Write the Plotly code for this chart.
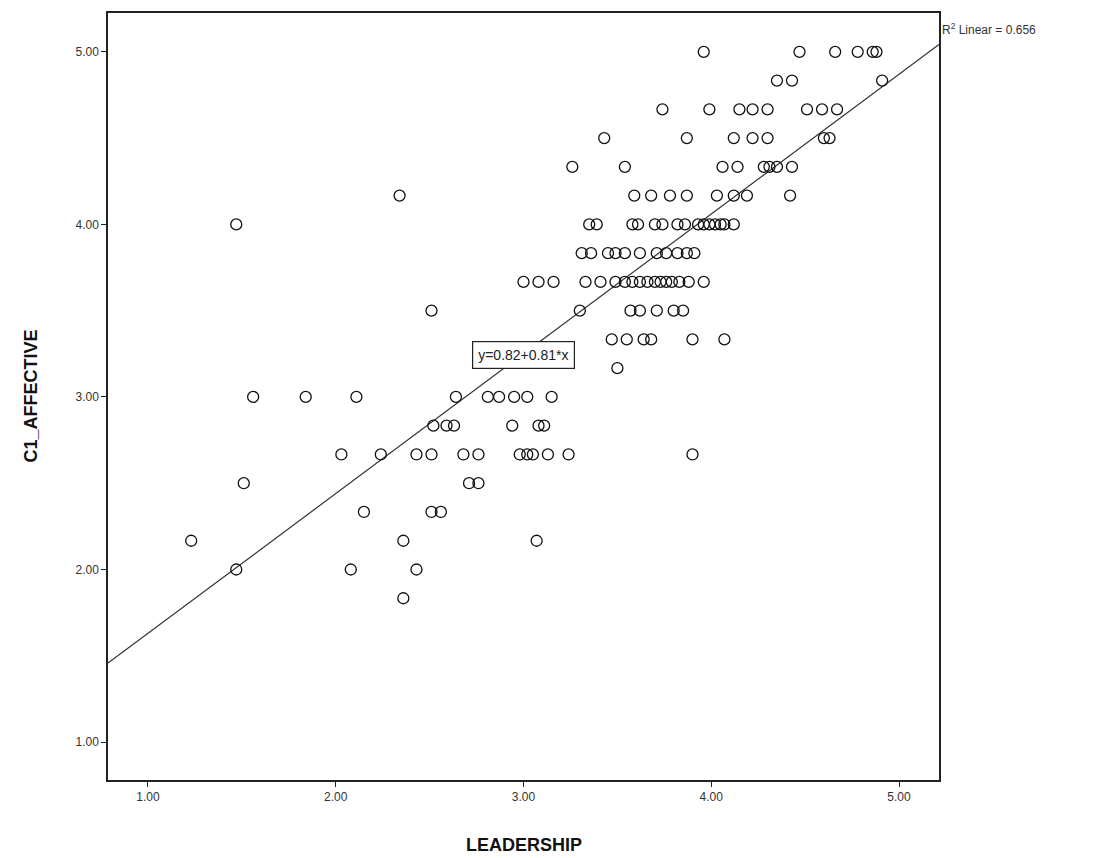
import plotly.graph_objects as go

# Data: C1_AFFECTIVE levels (multiples of 1/6) and the LEADERSHIP values observed at each level
rows = {
    5.0:   [3.96, 4.47, 4.66, 4.78, 4.86, 4.88],
    29/6:  [4.35, 4.43, 4.91],
    28/6:  [3.74, 3.99, 4.15, 4.22, 4.30, 4.51, 4.59, 4.67],
    27/6:  [3.43, 3.87, 4.12, 4.22, 4.30, 4.60, 4.63],
    26/6:  [3.26, 3.54, 4.06, 4.14, 4.28, 4.31, 4.35, 4.43],
    25/6:  [2.34, 3.59, 3.68, 3.78, 3.87, 4.03, 4.12, 4.19, 4.42],
    4.0:   [1.47, 3.35, 3.39, 3.58, 3.61, 3.70, 3.74, 3.82, 3.86, 3.93, 3.96, 3.99, 4.02, 4.05, 4.07, 4.12],
    23/6:  [3.31, 3.36, 3.45, 3.49, 3.54, 3.62, 3.71, 3.76, 3.82, 3.87, 3.91],
    22/6:  [3.00, 3.08, 3.16, 3.33, 3.41, 3.49, 3.54, 3.58, 3.62, 3.66, 3.70, 3.73, 3.76, 3.79, 3.83, 3.88, 3.96],
    21/6:  [2.51, 3.30, 3.57, 3.62, 3.71, 3.80, 3.85],
    20/6:  [3.47, 3.55, 3.64, 3.68, 3.90, 4.07],
    19/6:  [3.50],
    3.0:   [1.56, 1.84, 2.11, 2.64, 2.81, 2.87, 2.95, 3.02, 3.15],
    17/6:  [2.52, 2.59, 2.63, 2.94, 3.08, 3.11],
    16/6:  [2.03, 2.24, 2.43, 2.51, 2.68, 2.76, 2.98, 3.02, 3.05, 3.13, 3.24, 3.90],
    15/6:  [1.51, 2.71, 2.76],
    14/6:  [2.15, 2.51, 2.56],
    13/6:  [1.23, 2.36, 3.07],
    2.0:   [1.47, 2.08, 2.43],
    11/6:  [2.36],
}

leadership = [x for yv, xs in rows.items() for x in xs]
affective = [yv for yv, xs in rows.items() for x in xs]

intercept = 0.82
slope = 0.81
r2 = 0.656

x_range = [0.787, 5.213]
y_range = [0.78, 5.225]
tick_vals = [1, 2, 3, 4, 5]
tick_text = ["1.00", "2.00", "3.00", "4.00", "5.00"]

fig = go.Figure()

fig.add_trace(go.Scatter(
    x=x_range,
    y=[intercept + slope * v for v in x_range],
    mode="lines",
    line=dict(color="#333333", width=1.2),
    hoverinfo="skip",
    showlegend=False,
))

fig.add_trace(go.Scatter(
    x=leadership, y=affective,
    mode="markers",
    marker=dict(symbol="circle-open", size=11, color="#111111", line=dict(width=1.3)),
    showlegend=False,
))

axis_common = dict(
    showgrid=False, zeroline=False,
    showline=True, linecolor="#222222", linewidth=1.5, mirror=True,
    ticks="outside", ticklen=5, tickcolor="#222222", tickwidth=1,
    tickvals=tick_vals, ticktext=tick_text,
    tickfont=dict(family="Liberation Sans, Arial", size=12, color="#333333"),
)

fig.update_layout(
    width=1091, height=850,
    margin=dict(l=100, r=160, t=3, b=78),
    paper_bgcolor="white", plot_bgcolor="white",
    xaxis=dict(range=x_range, **axis_common),
    yaxis=dict(range=y_range, **axis_common),
    annotations=[
        dict(text="<b>LEADERSHIP</b>", xref="paper", yref="paper", x=0.5, y=0,
             xanchor="center", yanchor="middle", yshift=-65, showarrow=False,
             font=dict(family="Liberation Sans, Arial", size=18, color="#111111")),
        dict(text="<b>C1_AFFECTIVE</b>", xref="paper", yref="paper", x=0, y=0.5,
             xanchor="center", yanchor="middle", xshift=-78, textangle=-90, showarrow=False,
             font=dict(family="Liberation Sans, Arial", size=18, color="#111111")),
        dict(text="R<sup>2</sup> Linear = %.3f" % r2, xref="paper", yref="paper", x=1, y=1,
             xanchor="left", yanchor="middle", xshift=1, yshift=-16, showarrow=False,
             font=dict(family="Liberation Sans, Arial", size=12, color="#333333")),
        dict(text="y=%.2f+%.2f*x" % (intercept, slope), xref="x", yref="y", x=3.0, y=3.243,
             xanchor="center", yanchor="middle", showarrow=False,
             bgcolor="white", bordercolor="#222222", borderwidth=1.2, borderpad=5,
             font=dict(family="Liberation Sans, Arial", size=14, color="#222222")),
    ],
)

fig.write_html("out.html")
